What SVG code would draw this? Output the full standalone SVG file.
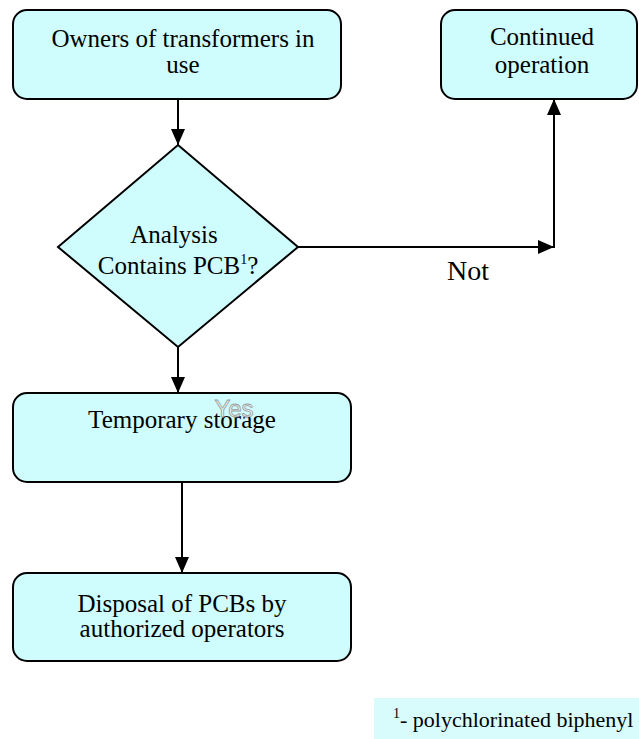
<svg xmlns="http://www.w3.org/2000/svg" width="639" height="739" viewBox="0 0 639 739">
<style>
.box{fill:#cffcfc;stroke:#000;stroke-width:2}
.t{font-family:"Liberation Serif","Times New Roman",serif;font-size:25px;fill:#000;text-anchor:middle}
.c{stroke:#000;stroke-width:2;fill:none}
</style>
<defs>
<marker id="ah" markerWidth="16" markerHeight="14" refX="16" refY="7" orient="auto" markerUnits="userSpaceOnUse">
<path d="M0,0 L16,7 L0,14 Z" fill="#000"/>
</marker>
</defs>
<rect width="639" height="739" fill="#fff"/>
<g id="connectors">
<line class="c" x1="178" y1="99" x2="178" y2="145" marker-end="url(#ah)"/>
<line class="c" x1="178" y1="347" x2="178" y2="393" marker-end="url(#ah)"/>
<line class="c" x1="182" y1="482" x2="182" y2="573" marker-end="url(#ah)"/>
<line class="c" x1="298" y1="247" x2="554" y2="247" marker-end="url(#ah)"/>
<line class="c" x1="554" y1="248" x2="554" y2="99" marker-end="url(#ah)"/>
<text x="468" y="280" font-family="Liberation Serif, serif" font-size="28" text-anchor="middle">Not</text>
</g>
<g id="owners">
<rect class="box" x="13" y="10" width="328" height="89" rx="14"/>
<text class="t" x="183" y="47">Owners of transformers in</text>
<text class="t" x="183" y="73">use</text>
</g>
<g id="continued">
<rect class="box" x="441" y="10" width="196" height="89" rx="14"/>
<text class="t" x="542" y="45">Continued</text>
<text class="t" x="542" y="73">operation</text>
</g>
<g id="analysis">
<polygon class="box" points="178,145 298,247 178,347 58,247"/>
<text class="t" x="174" y="243">Analysis</text>
<text class="t" x="178" y="274">Contains PCB<tspan font-size="14" dy="-10">1</tspan><tspan dy="10">?</tspan></text>
</g>
<g id="storage">
<rect class="box" x="13" y="393" width="338" height="89" rx="14"/>
<text class="t" x="182" y="428">Temporary storage</text>
<text x="234" y="417" font-family="Liberation Sans, Arial, sans-serif" font-size="24" text-anchor="middle" fill="#e4f4f4" stroke="#9a9a9a" stroke-width="0.8">Yes</text>
</g>
<g id="disposal">
<rect class="box" x="13" y="573" width="338" height="88" rx="14"/>
<text class="t" x="182" y="612">Disposal of PCBs by</text>
<text class="t" x="182" y="637">authorized operators</text>
</g>
<g id="footnote">
<rect x="374" y="698" width="265" height="41" fill="#d8fcfc"/>
<text x="393" y="727" font-family="Liberation Serif, serif" font-size="22"><tspan font-size="14" dy="-9">1</tspan><tspan dy="9">- polychlorinated biphenyl</tspan></text>
</g>
</svg>
